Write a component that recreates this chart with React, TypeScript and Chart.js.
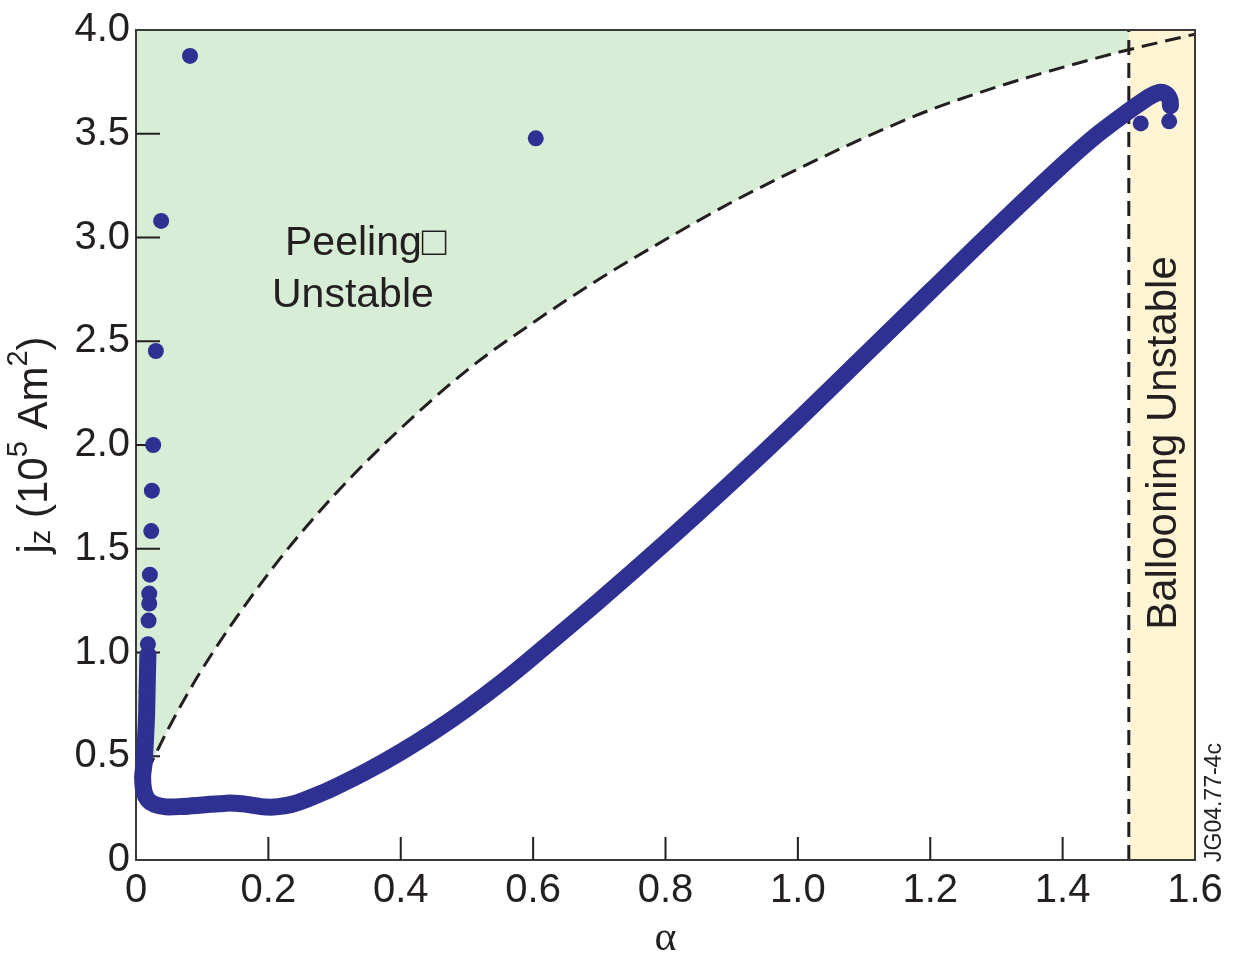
import { useEffect, useRef } from 'react';
import { Chart, registerables } from 'chart.js';

Chart.register(...registerables);

// Edge current density profile (alpha, j_z in 10^5 A/m^2): dense trace
const profileAlpha = [0.018, 0.017, 0.016, 0.014, 0.012, 0.010, 0.012, 0.018, 0.028, 0.045, 0.07, 0.10, 0.137, 0.16, 0.18, 0.198, 0.215, 0.235, 0.25, 0.275, 0.30, 0.35, 0.40, 0.45, 0.50, 0.55, 0.60, 0.70, 0.80, 0.90, 1.00, 1.10, 1.20, 1.30, 1.40, 1.45, 1.50, 1.52, 1.535, 1.548, 1.557, 1.562, 1.563];
const profileJ = [0.99, 0.85, 0.70, 0.56, 0.46, 0.40, 0.33, 0.29, 0.268, 0.256, 0.258, 0.265, 0.274, 0.271, 0.262, 0.255, 0.257, 0.268, 0.283, 0.315, 0.35, 0.43, 0.52, 0.62, 0.73, 0.85, 0.98, 1.25, 1.53, 1.82, 2.12, 2.43, 2.74, 3.05, 3.35, 3.49, 3.61, 3.655, 3.685, 3.70, 3.69, 3.665, 3.635];

// Individual profile samples near the separatrix and outliers
const sampleAlpha = [0.017, 0.017, 0.016, 0.016, 0.015, 0.015, 0.014, 0.013, 0.012, 0.010, 0.018, 0.019, 0.020, 0.020, 0.021, 0.023, 0.024, 0.026, 0.030, 0.038, 0.0816, 0.604, 1.518, 1.561];
const sampleJ = [0.92, 0.86, 0.81, 0.75, 0.69, 0.62, 0.56, 0.49, 0.45, 0.40, 1.04, 1.154, 1.236, 1.284, 1.375, 1.585, 1.78, 2.00, 2.453, 3.08, 3.875, 3.478, 3.55, 3.56];

// Peeling stability boundary
const peelingAlpha = [0, 0.025, 0.05, 0.1, 0.2, 0.3, 0.4, 0.5, 0.6, 0.7, 0.8, 0.9, 1.0, 1.1, 1.2, 1.3, 1.4, 1.5, 1.6];
const peelingJ = [0.32, 0.48, 0.64, 0.92, 1.38, 1.76, 2.08, 2.36, 2.59, 2.80, 2.99, 3.17, 3.33, 3.48, 3.615, 3.725, 3.82, 3.905, 3.98];

// Ballooning limit
const ballooningAlpha = 1.5;

const xMin = 0;
const xMax = 1.6;
const xStep = 0.2;
const yMin = 0;
const yMax = 4.0;
const yStep = 0.5;

const INK = '#231f20';
const BLUE = 'rgb(46,49,146)';
const GREEN = 'rgb(216,237,214)';
const YELLOW = 'rgb(255,245,213)';
const SANS = '"Liberation Sans", Arial, Helvetica, sans-serif';

const zip = (xs: number[], ys: number[]) => xs.map((x, i) => ({ x, y: ys[i] }));
const fmt = (v: number) => (v === 0 ? '0' : v.toFixed(1));

const decorations = {
  id: 'decorations',
  beforeDatasetDraw(chart: any, args: any) {
    if (chart.data.datasets[args.index].label !== 'profile') return;
    const { ctx, chartArea: a } = chart;
    const xs = chart.scales.x;
    const ys = chart.scales.y;
    ctx.save();
    ctx.strokeStyle = '#3a3a3a';
    ctx.lineWidth = 2;
    ctx.strokeRect(a.left, a.top, a.right - a.left, a.bottom - a.top);
    ctx.strokeStyle = INK;
    ctx.beginPath();
    xs.ticks.forEach((t: any) => {
      if (t.value <= xMin || t.value >= xMax) return;
      const px = xs.getPixelForValue(t.value);
      ctx.moveTo(px, a.bottom);
      ctx.lineTo(px, a.bottom - 23);
    });
    ys.ticks.forEach((t: any) => {
      if (t.value <= yMin || t.value >= yMax) return;
      const py = ys.getPixelForValue(t.value);
      ctx.moveTo(a.left, py);
      ctx.lineTo(a.left + 24, py);
    });
    ctx.stroke();
    ctx.restore();
  },
  afterDraw(chart: any) {
    const { ctx, chartArea: a } = chart;
    const xs = chart.scales.x;
    ctx.save();
    ctx.fillStyle = INK;
    ctx.textBaseline = 'alphabetic';

    // Region labels
    ctx.font = `41px ${SANS}`;
    ctx.textAlign = 'left';
    ctx.fillText('Peeling\u25A1', 285, 255);
    ctx.fillText('Unstable', 272, 307);

    ctx.save();
    ctx.translate(1176, 443);
    ctx.rotate(-Math.PI / 2);
    ctx.textAlign = 'center';
    ctx.font = `42px ${SANS}`;
    ctx.fillText('Ballooning Unstable', 0, 0);
    ctx.restore();

    ctx.save();
    ctx.translate(1221, 862);
    ctx.rotate(-Math.PI / 2);
    ctx.textAlign = 'left';
    ctx.font = `23px ${SANS}`;
    ctx.fillText('JG04.77-4c', 0, 0);
    ctx.restore();

    // x axis title
    ctx.font = '42px "Liberation Serif", "Times New Roman", serif';
    ctx.textAlign = 'center';
    ctx.fillText('\u03B1', (xs.left + xs.right) / 2, 950);

    // y axis title with sub/superscripts
    const big = `42px ${SANS}`;
    const small = `29px ${SANS}`;
    const parts = [
      { t: 'j', f: big, dy: 0 },
      { t: 'z', f: small, dy: 3 },
      { t: ' (10', f: big, dy: 0 },
      { t: '5', f: small, dy: -20 },
      { t: ' Am', f: big, dy: 0 },
      { t: '2', f: small, dy: -20 },
      { t: ')', f: big, dy: 0 },
    ];
    let total = 0;
    parts.forEach((p) => {
      ctx.font = p.f;
      total += ctx.measureText(p.t).width;
    });
    ctx.save();
    ctx.translate(47, (a.top + a.bottom) / 2);
    ctx.rotate(-Math.PI / 2);
    ctx.textAlign = 'left';
    let x = -total / 2;
    parts.forEach((p) => {
      ctx.font = p.f;
      ctx.fillText(p.t, x, p.dy);
      x += ctx.measureText(p.t).width;
    });
    ctx.restore();

    ctx.restore();
  },
};

export default function App() {
  const ref = useRef<HTMLCanvasElement | null>(null);

  useEffect(() => {
    if (!ref.current) return;
    const boundary = zip(peelingAlpha, peelingJ);
    const chart = new Chart(ref.current, {
      type: 'line',
      data: {
        datasets: [
          {
            label: 'peeling-region',
            data: boundary,
            borderWidth: 0,
            pointRadius: 0,
            backgroundColor: GREEN,
            fill: 'end',
            cubicInterpolationMode: 'monotone',
            order: 6,
          },
          {
            label: 'ballooning-region',
            data: [
              { x: ballooningAlpha, y: yMax },
              { x: xMax, y: yMax },
            ],
            borderWidth: 0,
            pointRadius: 0,
            backgroundColor: YELLOW,
            fill: 'origin',
            order: 5,
          },
          {
            label: 'peeling-boundary',
            data: boundary,
            borderColor: INK,
            borderWidth: 3,
            borderDash: [16, 8],
            pointRadius: 0,
            fill: false,
            cubicInterpolationMode: 'monotone',
            order: 4,
          },
          {
            label: 'ballooning-boundary',
            data: [
              { x: ballooningAlpha, y: yMin },
              { x: ballooningAlpha, y: yMax },
            ],
            borderColor: INK,
            borderWidth: 3,
            borderDash: [15, 8],
            pointRadius: 0,
            fill: false,
            order: 3,
          },
          {
            label: 'profile',
            data: zip(profileAlpha, profileJ),
            borderColor: BLUE,
            borderWidth: 17,
            borderCapStyle: 'round',
            borderJoinStyle: 'round',
            tension: 0.3,
            pointRadius: 0,
            fill: false,
            clip: false,
            order: 2,
          },
          {
            label: 'samples',
            data: zip(sampleAlpha, sampleJ),
            showLine: false,
            pointRadius: 8,
            pointBackgroundColor: BLUE,
            pointBorderWidth: 0,
            borderColor: BLUE,
            fill: false,
            clip: false,
            order: 1,
          },
        ],
      },
      options: {
        animation: false,
        responsive: false,
        events: [],
        layout: { padding: { left: 0, top: 25, right: 39, bottom: 0 } },
        plugins: {
          legend: { display: false },
          tooltip: { enabled: false },
        },
        scales: {
          x: {
            type: 'linear',
            min: xMin,
            max: xMax,
            grid: { display: false, drawTicks: false },
            border: { display: false },
            ticks: {
              stepSize: xStep,
              padding: 7,
              color: INK,
              font: { family: SANS, size: 40 },
              callback: (v: any) => fmt(Number(v)),
              maxRotation: 0,
            },
            afterFit: (s: any) => {
              s.height = 99;
            },
          },
          y: {
            type: 'linear',
            min: yMin,
            max: yMax,
            grid: { display: false, drawTicks: false },
            border: { display: false },
            ticks: {
              stepSize: yStep,
              padding: 6,
              color: INK,
              font: { family: SANS, size: 40 },
              callback: (v: any) => fmt(Number(v)),
            },
            afterFit: (s: any) => {
              s.width = 136;
            },
          },
        },
      },
      plugins: [decorations],
    } as any);
    return () => chart.destroy();
  }, []);

  return (
    <div style={{ position: 'absolute', left: 0, top: 0, width: 1234, height: 959, background: '#fff' }}>
      <canvas ref={ref} width={1234} height={959} style={{ display: 'block' }} />
    </div>
  );
}
